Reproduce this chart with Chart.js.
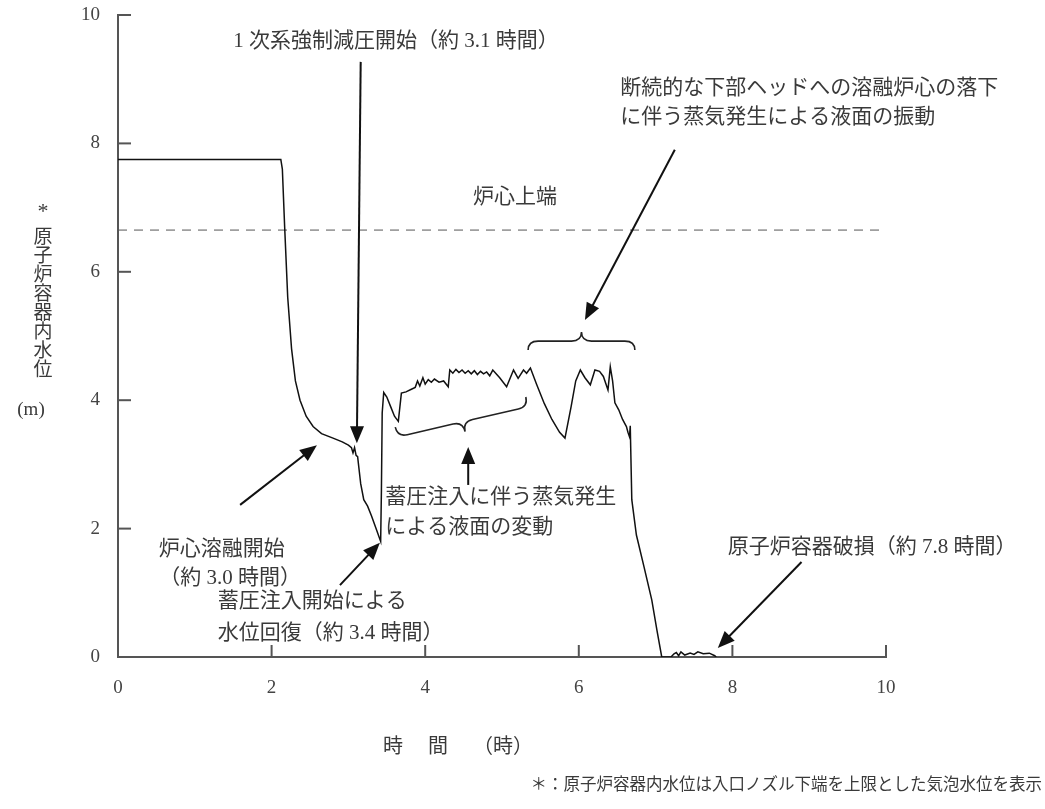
<!DOCTYPE html>
<html>
<head>
<meta charset="utf-8">
<script src="https://cdn.jsdelivr.net/npm/chart.js@4/dist/chart.umd.min.js"></script>
<style>
	body{margin:0;background:#fff;}
</style>
</head>
<body>
<canvas id="grafico-nivel" width="1045" height="809"></canvas>
<script>
// datos: tiempo (h) y nivel de agua en la vasija (m)
var horas = [0, 2.12, 2.14, 2.17, 2.21, 2.26, 2.31, 2.37, 2.45, 2.54, 2.65, 2.8, 2.92, 3.0, 3.04, 3.06, 3.08, 3.1, 3.12,
	3.16, 3.2, 3.25, 3.3, 3.36, 3.42, 3.43, 3.44, 3.46, 3.5, 3.55, 3.6, 3.65, 3.68, 3.69, 3.75, 3.82, 3.87, 3.9, 3.93, 3.97,
	4.0, 4.04, 4.08, 4.12, 4.18, 4.24, 4.3, 4.32, 4.36, 4.4, 4.44, 4.48, 4.52, 4.56, 4.6, 4.64, 4.68, 4.72, 4.76, 4.8, 4.84,
	4.88, 4.97, 5.06, 5.15, 5.21, 5.28, 5.32, 5.37, 5.45, 5.55, 5.65, 5.75, 5.82, 5.9, 5.96, 6.02, 6.08, 6.15, 6.21, 6.27,
	6.32, 6.38, 6.41, 6.44, 6.47, 6.52, 6.57, 6.62, 6.64, 6.66, 6.67, 6.69, 6.75, 6.85, 6.95, 7.02, 7.08, 7.2, 7.24, 7.27,
	7.3, 7.33, 7.38, 7.45, 7.5, 7.55, 7.62, 7.7, 7.77, 7.79];
var nivel = [7.75, 7.75, 7.6, 6.7, 5.6, 4.8, 4.3, 4.0, 3.75, 3.59, 3.48, 3.41, 3.35, 3.3, 3.26, 3.18, 3.26, 3.14, 3.12,
	2.7, 2.45, 2.35, 2.2, 2.0, 1.8, 2.6, 3.8, 4.12, 4.05, 3.9, 3.75, 3.67, 4.0, 4.11, 4.13, 4.17, 4.2, 4.3, 4.22, 4.35,
	4.25, 4.32, 4.28, 4.33, 4.28, 4.3, 4.21, 4.47, 4.42, 4.48, 4.43, 4.47, 4.42, 4.46, 4.41, 4.46, 4.4, 4.45, 4.41, 4.44, 4.38,
	4.47, 4.35, 4.21, 4.47, 4.34, 4.47, 4.42, 4.5, 4.25, 3.95, 3.7, 3.5, 3.41, 3.9, 4.3, 4.47, 4.35, 4.24, 4.47, 4.45,
	4.37, 4.16, 4.52, 4.3, 3.96, 3.85, 3.7, 3.59, 3.5, 3.43, 3.6, 2.45, 1.9, 1.4, 0.89, 0.4, 0.0, 0.0, 0.05, 0.07,
	0.02, 0.08, 0.03, 0.06, 0.04, 0.08, 0.05, 0.06, 0.02, 0.0];

// linea punteada: extremo superior del nucleo
var horasNucleo = [0, 10];
var nivelNucleo = [6.65, 6.65];

var ticksX = [0, 2, 4, 6, 8, 10];
var ticksY = [0, 2, 4, 6, 8, 10];

var fuente = '"Liberation Serif","Noto Sans CJK JP",serif';
var colorTexto = '#3a3a3a';

function puntos(xs, ys){
	var r = [];
	for (var i = 0; i < xs.length; i++) r.push({x: xs[i], y: ys[i]});
	return r;
}

// anotaciones en unidades de datos (h, m)
var flechas = [
	{de: [3.16, 9.27], a: [3.11, 3.33]},
	{de: [1.59, 2.37], a: [2.59, 3.30]},
	{de: [2.89, 1.12], a: [3.41, 1.78]},
	{de: [4.56, 2.68], a: [4.56, 3.27]},
	{de: [7.25, 7.90], a: [6.08, 5.25]},
	{de: [8.90, 1.48], a: [7.81, 0.14]}
];
var textos = [
	{t: '1 次系強制減圧開始（約 3.1 時間）', x: 3.62, y: 9.58, al: 'center'},
	{t: '炉心上端', x: 5.17, y: 7.15, al: 'center'},
	{t: '断続的な下部ヘッドへの溶融炉心の落下', x: 6.54, y: 8.86, al: 'left'},
	{t: 'に伴う蒸気発生による液面の振動', x: 6.54, y: 8.40, al: 'left'},
	{t: '蓄圧注入に伴う蒸気発生', x: 3.48, y: 2.49, al: 'left'},
	{t: 'による液面の変動', x: 3.48, y: 2.02, al: 'left'},
	{t: '炉心溶融開始', x: 1.35, y: 1.68, al: 'center'},
	{t: '（約 3.0 時間）', x: 1.46, y: 1.23, al: 'center'},
	{t: '蓄圧注入開始による', x: 1.30, y: 0.87, al: 'left'},
	{t: '水位回復（約 3.4 時間）', x: 1.30, y: 0.37, al: 'left'},
	{t: '原子炉容器破損（約 7.8 時間）', x: 7.94, y: 1.70, al: 'left'}
];
// llaves: extremos y profundidad en px
var llaves = [
	{de: [5.34, 4.78], a: [6.73, 4.78], h: 18},
	{de: [3.61, 3.58], a: [5.31, 4.05], h: -20}
];

function flecha(ctx, x0, y0, x1, y1){
	var ang = Math.atan2(y1 - y0, x1 - x0), L = 17, W = 7;
	ctx.beginPath();
	ctx.moveTo(x0, y0);
	ctx.lineTo(x1 - Math.cos(ang) * L * 0.8, y1 - Math.sin(ang) * L * 0.8);
	ctx.stroke();
	ctx.beginPath();
	ctx.moveTo(x1, y1);
	ctx.lineTo(x1 - Math.cos(ang) * L - Math.sin(ang) * W, y1 - Math.sin(ang) * L + Math.cos(ang) * W);
	ctx.lineTo(x1 - Math.cos(ang) * L + Math.sin(ang) * W, y1 - Math.sin(ang) * L - Math.cos(ang) * W);
	ctx.closePath();
	ctx.fill();
}

function llave(ctx, x1, y1, x2, y2, h){
	var dx = x2 - x1, dy = y2 - y1, len = Math.sqrt(dx * dx + dy * dy);
	var ux = dx / len, uy = dy / len, nx = uy, ny = -ux, r = 10;
	function p(s, v){ return [x1 + ux * s + nx * v, y1 + uy * s + ny * v]; }
	var a;
	ctx.beginPath();
	a = p(0, 0); ctx.moveTo(a[0], a[1]);
	var c = p(0, h / 2), e = p(r, h / 2);
	ctx.quadraticCurveTo(c[0], c[1], e[0], e[1]);
	a = p(len / 2 - r, h / 2); ctx.lineTo(a[0], a[1]);
	c = p(len / 2, h / 2); e = p(len / 2, h);
	ctx.quadraticCurveTo(c[0], c[1], e[0], e[1]);
	c = p(len / 2, h / 2); e = p(len / 2 + r, h / 2);
	ctx.quadraticCurveTo(c[0], c[1], e[0], e[1]);
	a = p(len - r, h / 2); ctx.lineTo(a[0], a[1]);
	c = p(len, h / 2); e = p(len, 0);
	ctx.quadraticCurveTo(c[0], c[1], e[0], e[1]);
	ctx.stroke();
}

var anotaciones = {
	id: 'anotaciones',
	afterDraw: function(chart){
		var ctx = chart.ctx, sx = chart.scales.x, sy = chart.scales.y;
		var area = chart.chartArea;
		ctx.save();
		// ticks hacia adentro
		ctx.strokeStyle = '#555';
		ctx.lineWidth = 2;
		ticksY.forEach(function(v){
			var y = sy.getPixelForValue(v);
			if (v === 0) return;
			ctx.beginPath(); ctx.moveTo(area.left, y); ctx.lineTo(area.left + 13, y); ctx.stroke();
		});
		ticksX.forEach(function(v){
			var x = sx.getPixelForValue(v);
			if (v === 0) return;
			ctx.beginPath(); ctx.moveTo(x, area.bottom); ctx.lineTo(x, area.bottom - 12); ctx.stroke();
		});

		// flechas
		ctx.strokeStyle = '#111';
		ctx.fillStyle = '#111';
		ctx.lineWidth = 2;
		flechas.forEach(function(f){
			flecha(ctx, sx.getPixelForValue(f.de[0]), sy.getPixelForValue(f.de[1]),
				sx.getPixelForValue(f.a[0]), sy.getPixelForValue(f.a[1]));
		});
		ctx.lineWidth = 1.6;
		ctx.strokeStyle = '#222';
		llaves.forEach(function(l){
			llave(ctx, sx.getPixelForValue(l.de[0]), sy.getPixelForValue(l.de[1]),
				sx.getPixelForValue(l.a[0]), sy.getPixelForValue(l.a[1]), l.h);
		});

		// textos
		ctx.fillStyle = colorTexto;
		ctx.font = '21px ' + fuente;
		ctx.textBaseline = 'middle';
		textos.forEach(function(o){
			ctx.textAlign = o.al;
			ctx.fillText(o.t, sx.getPixelForValue(o.x), sy.getPixelForValue(o.y));
		});

		// titulo eje y (vertical)
		ctx.textAlign = 'center';
		ctx.font = '22px ' + fuente;
		ctx.fillText('*', 43, 212);
		ctx.font = '19px ' + fuente;
		var tituloY = '原子炉容器内水位';
		for (var i = 0; i < tituloY.length; i++) ctx.fillText(tituloY[i], 43, 238 + i * 19);
		ctx.fillText('(m)', 31, 410);

		// titulo eje x y nota
		ctx.font = '20px ' + fuente;
		ctx.textAlign = 'left';
		ctx.fillText('時　 間　 （時）', 383, 748);
		ctx.font = '16.5px ' + fuente;
		ctx.textAlign = 'right';
		ctx.fillText('＊：原子炉容器内水位は入口ノズル下端を上限とした気泡水位を表示', 1042, 786);
		ctx.restore();
	}
};

new Chart(document.getElementById('grafico-nivel').getContext('2d'), {
	type: 'line',
	data: {
		datasets: [{
			label: '原子炉容器内水位',
			data: puntos(horas, nivel),
			borderColor: '#111',
			borderWidth: 1.5,
			pointRadius: 0,
			tension: 0,
			fill: false
		}, {
			label: '炉心上端',
			data: puntos(horasNucleo, nivelNucleo),
			borderColor: '#555',
			borderWidth: 1,
			borderDash: [9, 7],
			pointRadius: 0,
			fill: false
		}]
	},
	options: {
		responsive: false,
		animation: false,
		layout: { padding: { left: 0, top: 15, right: 159, bottom: 0 } },
		plugins: {
			legend: { display: false },
			tooltip: { enabled: false }
		},
		scales: {
			x: {
				type: 'linear',
				min: 0, max: 10,
				afterBuildTicks: function(s){ s.ticks = ticksX.map(function(v){ return {value: v}; }); },
				afterFit: function(s){ s.height = 152; s.paddingLeft = 0; s.paddingRight = 0; },
				grid: { drawOnChartArea: false, drawTicks: false },
				border: { display: true, color: '#555', width: 2 },
				ticks: { padding: 20, color: '#444', font: { family: fuente, size: 19 } }
			},
			y: {
				type: 'linear',
				min: 0, max: 10,
				afterBuildTicks: function(s){ s.ticks = ticksY.map(function(v){ return {value: v}; }); },
				afterFit: function(s){ s.width = 118; s.paddingTop = 0; s.paddingBottom = 0; },
				grid: { drawOnChartArea: false, drawTicks: false },
				border: { display: true, color: '#555', width: 2 },
				ticks: { padding: 18, color: '#444', font: { family: fuente, size: 19 } }
			}
		}
	},
	plugins: [anotaciones]
});
</script>
</body>
</html>
